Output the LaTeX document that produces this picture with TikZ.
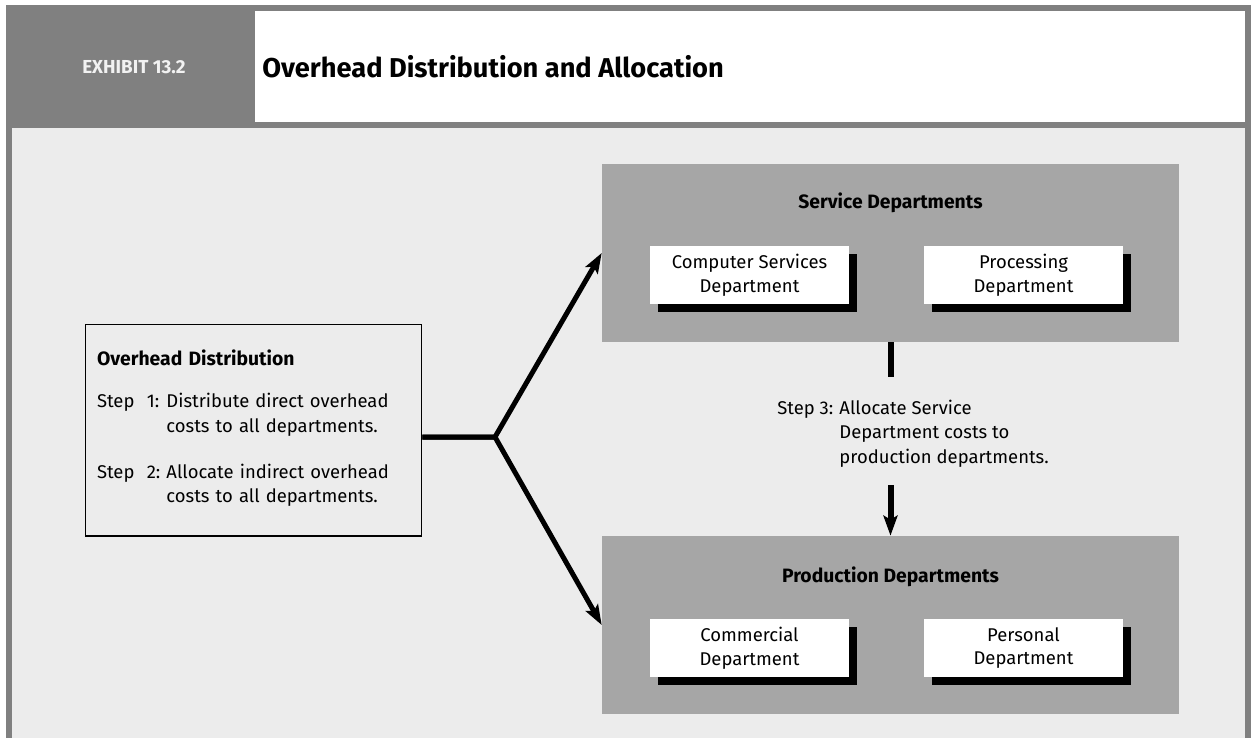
\documentclass[tikz,border=0pt]{standalone}
\usepackage{fontspec}
\setmainfont{Fira Sans}
\usetikzlibrary{arrows.meta, shadows}
\definecolor{framegray}{RGB}{128,128,128}
\definecolor{panelgray}{RGB}{236,236,236}
\definecolor{deptgray}{RGB}{166,166,166}
\definecolor{exhwhite}{RGB}{242,242,242}

\begin{document}
\begin{tikzpicture}[
    x=0.02cm, y=-0.02cm,
    group/.style={rectangle, fill=deptgray, minimum width=11.54cm, minimum height=3.56cm, inner sep=0pt},
    gtitle/.style={font=\fontsize{11}{13}\selectfont\bfseries, inner sep=0pt},
    dept/.style={rectangle, fill=white, minimum width=3.98cm, minimum height=1.16cm, inner sep=0pt, align=center,
        font=\fontsize{10.5}{13.6}\selectfont,
        drop shadow={shadow xshift=0.16cm, shadow yshift=-0.16cm, fill=black, opacity=1}},
    link/.style={line width=0.12cm},
    arr/.style={line width=0.1cm, miter limit=20, -{Stealth[length=0.4cm, width=0.28cm, inset=0.08cm]}},
]
\useasboundingbox (0,0) rectangle (1255,738);

% Frame and header
\fill[white] (0,0) rectangle (1255,738);
\fill[framegray] (6,5) rectangle (1251,738);
\fill[white] (255,11) rectangle (1245,122);
\fill[panelgray] (12,128) rectangle (1245,738);
\node[font=\fontsize{10.7}{12}\selectfont\bfseries, text=exhwhite, inner sep=0pt] (exhibit) at (134,67) {EXHIBIT 13.2};
\node[anchor=west, font=\fontsize{15.5}{18}\selectfont\bfseries, inner sep=0pt] (title) at (262,67) {Overhead Distribution and Allocation};

% Left box: distribution steps
\node[rectangle, draw, line width=0.6pt, fill=panelgray, minimum width=6.74cm, minimum height=4.24cm,
      inner xsep=0.24cm, text width=6.26cm, align=left, font=\fontsize{10.5}{14}\selectfont] (ohd) at (253.5,430)
    {{\bfseries\fontsize{11}{13}\selectfont Overhead Distribution}\\[13pt]
     \begin{tabular}{@{}l@{\hspace{3.5pt}}l@{}}
     Step\hspace{7pt}1: & Distribute direct overhead\\
                        & costs to all departments.\\[12pt]
     Step\hspace{7pt}2: & Allocate indirect overhead\\
                        & costs to all departments.
     \end{tabular}};

% Service departments
\node[group] (svc) at (890.5,253) {};
\node[gtitle] (svctitle) at (890.5,203) {Service Departments};
\node[dept] (comp) at (749.5,275) {Computer Services\\Department};
\node[dept] (proc) at (1023.5,275) {Processing\\Department};

% Production departments
\node[group] (prod) at (890.5,625) {};
\node[gtitle] (prodtitle) at (890.5,577) {Production Departments};
\node[dept] (comm) at (749.5,648) {Commercial\\Department};
\node[dept] (pers) at (1023.5,648) {Personal\\Department};

% Step 3 label
\node[anchor=west, inner sep=0pt, font=\fontsize{10.5}{14}\selectfont] (step3) at (777,434)
    {\begin{tabular}{@{}l@{\hspace{3.5pt}}l@{}}
     Step 3: & Allocate Service\\
             & Department costs to\\
             & production departments.
     \end{tabular}};

% Fork to both groups
\coordinate (fork) at (495,437);
\draw[arr] (ohd.east |- fork) -- (fork) -- (svc.west);
\draw[arr] (ohd.east |- fork) -- (fork) -- (prod.west);

% Service to production
\coordinate (s3top) at (890.5,377);
\coordinate (s3bot) at (890.5,485);
\draw[link] (svc.south) -- (s3top);
\draw[arr, line width=0.12cm] (s3bot) -- (prod.north);
\end{tikzpicture}
\end{document}
